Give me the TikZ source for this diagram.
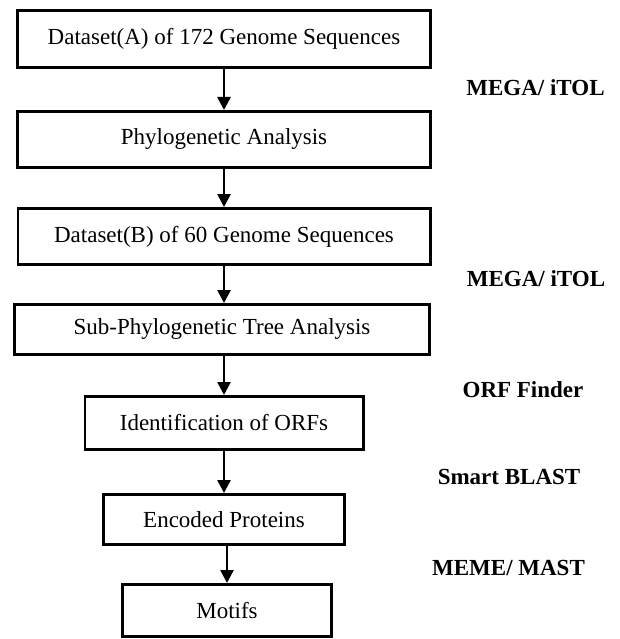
\documentclass[tikz,border=0pt]{standalone}
\usepackage{fontspec}
\setmainfont{Liberation Serif}
\usetikzlibrary{positioning,arrows.meta}

\tikzset{
  stage/.style={draw, line width=2.6pt, inner sep=0pt, font=\fontsize{23}{27}\selectfont},
  tool/.style={font=\fontsize{23}{27}\selectfont\bfseries},
  flow/.style={line width=2.6pt, -{Triangle[length=13pt,width=13pt]}},
}

\begin{document}
\begin{tikzpicture}[x=1pt, y=1pt, node distance=38pt]
\useasboundingbox (0,0) rectangle (619,-639);

%% pipeline steps
\node[stage, minimum width=413.4pt, minimum height=57.4pt] (data_a) at (224,-39) {Dataset(A) of 172 Genome Sequences};
\node[stage, minimum width=413.4pt, minimum height=56.4pt, below=41pt of data_a] (phylo) {Phylogenetic Analysis};
\node[stage, minimum width=412.4pt, minimum height=56.4pt, below=of phylo] (data_b) {Dataset(B) of 60 Genome Sequences};
\node[stage, minimum width=415.4pt, minimum height=50.4pt, below=37pt of data_b, xshift=-2pt] (subtree) {Sub-Phylogenetic Tree Analysis};
\node[stage, minimum width=278.4pt, minimum height=53.4pt, below=39pt of subtree, xshift=2pt] (orfs) {Identification of ORFs};
\node[stage, minimum width=241.4pt, minimum height=50.4pt, below=42pt of orfs] (proteins) {Encoded Proteins};
\node[stage, minimum width=209.4pt, minimum height=52.4pt, below=37pt of proteins, xshift=3pt] (motifs) {Motifs};

\draw[flow] (data_a) -- (phylo);
\draw[flow] (phylo) -- (data_b);
\draw[flow] (data_b) -- (data_b |- subtree.north);
\draw[flow] (subtree.south -| orfs) -- (orfs);
\draw[flow] (orfs) -- (proteins);
\draw[flow] (proteins.south -| motifs) -- (motifs);

%% tools used at each step
\node[tool] (mega_a) at (535.5,-88) {MEGA/ iTOL};
\node[tool] (mega_b) at (536,-279) {MEGA/ iTOL};
\node[tool] (orf_finder) at (523,-390) {ORF Finder};
\node[tool] (smart_blast) at (509,-477) {Smart BLAST};
\node[tool] (meme_mast) at (508.5,-568) {MEME/ MAST};

\end{tikzpicture}
\end{document}
